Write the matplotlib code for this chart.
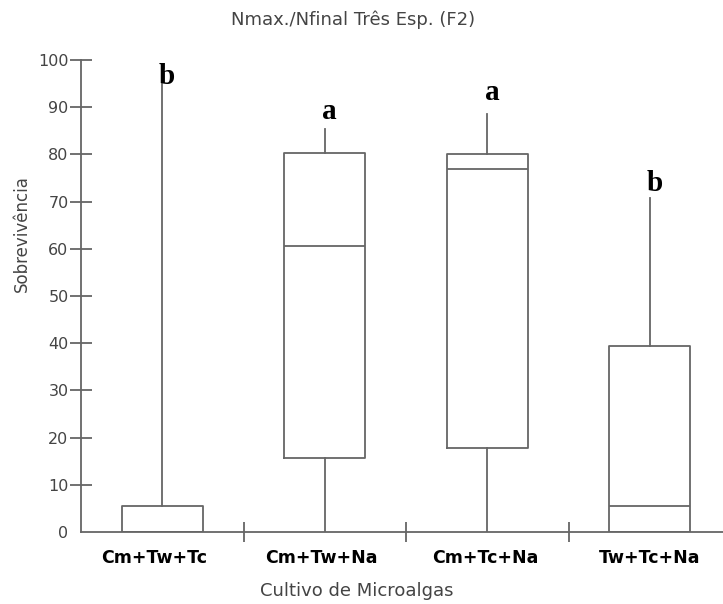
import matplotlib
matplotlib.use('Agg')
import matplotlib.pyplot as plt

# values (Sobrevivência per culture)
groups = ['Cm+Tw+Tc', 'Cm+Tw+Na', 'Cm+Tc+Na', 'Tw+Tc+Na']
whislo = [0, 0, 0, 0]
q1 = [0, 15.7, 17.7, 0]
med = [0, 60.5, 76.9, 5.5]
q3 = [5.5, 80.4, 80.0, 39.4]
whishi = [95, 85.4, 88.5, 70.7]
letters = ['b', 'a', 'a', 'b']
letter_y = [95.0, 87.5, 91.5, 72.3]
yticks = [0, 10, 20, 30, 40, 50, 60, 70, 80, 90, 100]

gray = '#666666'
txt = '#444444'

fig = plt.figure(figsize=(7.23, 6.04), dpi=100)
ax = fig.add_axes([81 / 723, 72 / 604, 650 / 723, 472 / 604])

stats = []
for i in range(len(groups)):
    stats.append({'label': groups[i], 'whislo': whislo[i], 'q1': q1[i], 'med': med[i],
                  'q3': q3[i], 'whishi': whishi[i], 'fliers': []})

lp = dict(color=gray, linewidth=1.3)
ax.bxp(stats, positions=range(len(groups)), widths=0.5, showcaps=False, showfliers=False,
       boxprops=lp, whiskerprops=lp, medianprops=lp, manage_ticks=False)

for i, l in enumerate(letters):
    ax.text(i + 0.03, letter_y[i], l, ha='center', va='baseline', fontsize=21,
            fontweight='bold', family='Liberation Serif', color='black')

ax.set_xlim(-0.5, 3.5)
ax.set_ylim(0, 100)
ax.spines['top'].set_visible(False)
ax.spines['right'].set_visible(False)
for s in ['left', 'bottom']:
    ax.spines[s].set_color(gray)
    ax.spines[s].set_linewidth(1.3)

ax.set_yticks(yticks)
ax.set_yticklabels([str(v) for v in yticks])
ax.tick_params(axis='y', direction='inout', length=16, width=1.3, color=gray,
               labelcolor=txt, labelsize=11.5, pad=1)
ax.yaxis.get_major_ticks()[0].tick1line.set_visible(False)

ax.set_xticks([0.5, 1.5, 2.5])
ax.set_xticklabels([])
ax.tick_params(axis='x', direction='inout', length=14, width=1.3, color=gray)
label_shift = [-0.05, -0.02, -0.01, 0.0]
for i, g in enumerate(groups):
    ax.text(i + label_shift[i], -5.6, g, ha='center', va='center', fontsize=12.5,
            fontweight='bold', color='black')

fig.text(0.488, 0.967, 'Nmax./Nfinal Três Esp. (F2)', ha='center', va='center',
         fontsize=13, color=txt)
fig.text(0.494, 0.022, 'Cultivo de Microalgas', ha='center', va='center',
         fontsize=13, color=txt)
fig.text(0.03, 0.614, 'Sobrevivência', ha='center', va='center', rotation=90,
         fontsize=12, color=txt)

fig.savefig('out.png', dpi=100)
